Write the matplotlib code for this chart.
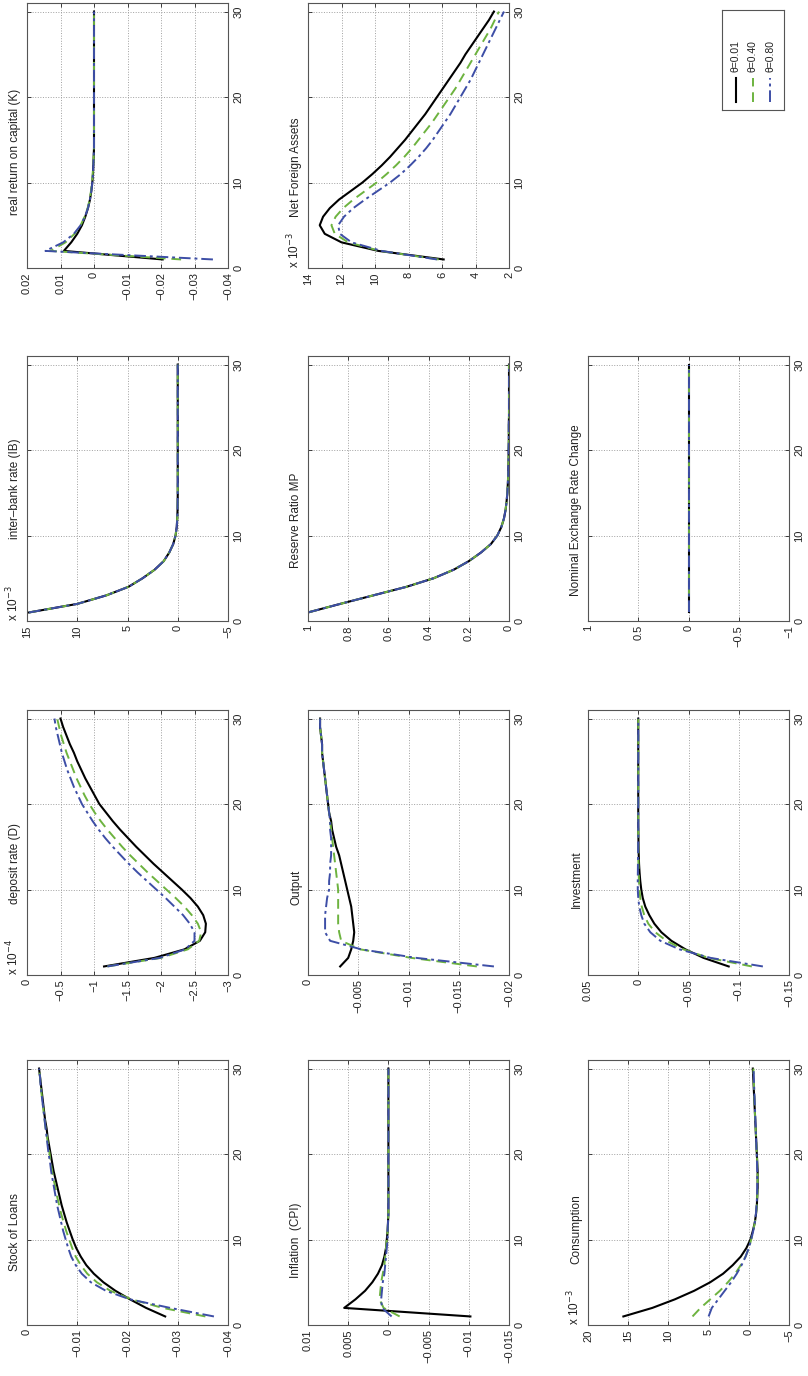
import matplotlib.pyplot as plt
from matplotlib.ticker import FixedLocator, FixedFormatter

plt.rcParams['font.family'] = ['Liberation Sans', 'DejaVu Sans']

# periods after the shock
periods = list(range(1, 31))
theta_labels = ['θ=0.01', 'θ=0.40', 'θ=0.80']

# ---- impulse responses (one list per theta) ----
real_return_k = [
    [-0.0205, 0.0090, 0.0068, 0.0050, 0.0036, 0.0026, 0.0018, 0.0012, 0.0008, 0.0005, 0.0003, 0.0002, 0.0001, 0, 0,
     0, 0, 0, 0, 0, 0, 0, 0, 0, 0, 0, 0, 0, 0, 0],
    [-0.0260, 0.0130, 0.0085, 0.0058, 0.0040, 0.0028, 0.0019, 0.0013, 0.0009, 0.0006, 0.0004, 0.0002, 0.0001, 0, 0,
     0, 0, 0, 0, 0, 0, 0, 0, 0, 0, 0, 0, 0, 0, 0],
    [-0.0355, 0.0145, 0.0092, 0.0060, 0.0040, 0.0027, 0.0018, 0.0012, 0.0008, 0.0005, 0.0003, 0.0002, 0.0001, 0, 0,
     0, 0, 0, 0, 0, 0, 0, 0, 0, 0, 0, 0, 0, 0, 0],
]
net_foreign_assets = [  # x 10^-3
    [5.9, 9.8, 12.0, 13.0, 13.3, 13.1, 12.7, 12.15, 11.45, 10.75, 10.15, 9.6, 9.1, 8.65, 8.2,
     7.8, 7.4, 7.0, 6.65, 6.3, 5.95, 5.6, 5.25, 4.9, 4.6, 4.25, 3.9, 3.55, 3.2, 2.9],
    [6.2, 9.7, 11.6, 12.4, 12.6, 12.35, 11.9, 11.3, 10.6, 9.9, 9.3, 8.75, 8.25, 7.8, 7.4,
     7.0, 6.6, 6.25, 5.9, 5.55, 5.2, 4.9, 4.6, 4.3, 4.0, 3.7, 3.4, 3.1, 2.85, 2.6],
    [6.3, 9.6, 11.4, 12.1, 12.2, 11.85, 11.3, 10.6, 9.85, 9.1, 8.45, 7.9, 7.4, 6.95, 6.55,
     6.2, 5.85, 5.5, 5.2, 4.9, 4.6, 4.3, 4.05, 3.8, 3.55, 3.3, 3.05, 2.8, 2.55, 2.3],
]
interbank_rate = [  # x 10^-3, identical for all theta
    14.8, 10.0, 7.1, 4.9, 3.5, 2.3, 1.4, 0.85, 0.45, 0.22, 0.1, 0.05, 0.02, 0.01, 0,
    0, 0, 0, 0, 0, 0, 0, 0, 0, 0, 0, 0, 0, 0, 0]
reserve_ratio = [  # identical for all theta
    1.0, 0.84, 0.675, 0.51, 0.375, 0.275, 0.2, 0.14, 0.09, 0.058, 0.038, 0.025, 0.017, 0.012, 0.008,
    0.006, 0.004, 0.003, 0.002, 0.002, 0.001, 0.001, 0.001, 0, 0, 0, 0, 0, 0, 0]
exchange_rate_change = [
    0, 0, 0, 0, 0, 0, 0, 0, 0, 0, 0, 0, 0, 0, 0,
    0, 0, 0, 0, 0, 0, 0, 0, 0, 0, 0, 0, 0, 0, 0]
deposit_rate = [  # x 10^-4
    [-1.15, -1.9, -2.35, -2.58, -2.66, -2.67, -2.63, -2.55, -2.44, -2.31, -2.17, -2.03, -1.89, -1.76, -1.63,
     -1.51, -1.39, -1.28, -1.18, -1.08, -1.01, -0.94, -0.87, -0.81, -0.75, -0.7, -0.64, -0.59, -0.54, -0.5],
    [-1.2, -2.0, -2.4, -2.57, -2.6, -2.55, -2.46, -2.35, -2.22, -2.08, -1.94, -1.8, -1.67, -1.54, -1.42,
     -1.31, -1.2, -1.1, -1.01, -0.93, -0.86, -0.8, -0.74, -0.69, -0.64, -0.59, -0.55, -0.51, -0.48, -0.45],
    [-1.2, -1.98, -2.36, -2.5, -2.5, -2.43, -2.33, -2.2, -2.07, -1.93, -1.79, -1.65, -1.52, -1.4, -1.28,
     -1.17, -1.07, -0.98, -0.9, -0.82, -0.76, -0.7, -0.65, -0.6, -0.56, -0.52, -0.49, -0.46, -0.43, -0.41],
]
output = [
    [-0.0032, -0.0040, -0.0043, -0.0045, -0.0046, -0.0045, -0.0044, -0.0043, -0.0041, -0.0039, -0.0037, -0.0035,
     -0.0033, -0.0031, -0.0028, -0.0026, -0.0024, -0.0023, -0.0021, -0.0020, -0.0019, -0.0018, -0.0017, -0.0016,
     -0.0015, -0.0014, -0.0014, -0.0013, -0.0012, -0.0012],
    [-0.0168, -0.0103, -0.0052, -0.0033, -0.0031, -0.0030, -0.0030, -0.0030, -0.0030, -0.0030, -0.0029, -0.0028,
     -0.0027, -0.0026, -0.0025, -0.0024, -0.0023, -0.0022, -0.0021, -0.0020, -0.0019, -0.0018, -0.0017, -0.0016,
     -0.0015, -0.0014, -0.0014, -0.0013, -0.0012, -0.0012],
    [-0.0185, -0.0108, -0.0053, -0.0022, -0.0017, -0.0017, -0.0017, -0.0018, -0.0019, -0.0021, -0.0021, -0.0022,
     -0.0022, -0.0023, -0.0023, -0.0023, -0.0022, -0.0022, -0.0021, -0.0020, -0.0019, -0.0018, -0.0017, -0.0016,
     -0.0015, -0.0014, -0.0014, -0.0013, -0.0012, -0.0012],
]
investment = [
    [-0.090, -0.065, -0.047, -0.033, -0.023, -0.016, -0.011, -0.007, -0.0045, -0.003, -0.002, -0.0013, -0.0008,
     -0.0005, -0.0003, -0.0002, -0.0001, 0, 0, 0, 0, 0, 0, 0, 0, 0, 0, 0, 0, 0],
    [-0.113, -0.070, -0.045, -0.028, -0.017, -0.010, -0.006, -0.0035, -0.002, -0.0012, -0.0007, -0.0004, -0.0002,
     -0.0001, 0, 0, 0, 0, 0, 0, 0, 0, 0, 0, 0, 0, 0, 0, 0, 0],
    [-0.124, -0.072, -0.041, -0.022, -0.012, -0.006, -0.003, -0.001, 0.0, 0.0005, 0.0005, 0.0004, 0.0003,
     0.0002, 0.0001, 0, 0, 0, 0, 0, 0, 0, 0, 0, 0, 0, 0, 0, 0, 0],
]
stock_of_loans = [
    [-0.0275, -0.0237, -0.0205, -0.0176, -0.0152, -0.0133, -0.0118, -0.0107, -0.0098, -0.0091, -0.0085, -0.0079,
     -0.0074, -0.0069, -0.0065, -0.0061, -0.0057, -0.0053, -0.0050, -0.0047, -0.0044, -0.0041, -0.0039, -0.0036,
     -0.0034, -0.0032, -0.0030, -0.0028, -0.0026, -0.0024],
    [-0.0355, -0.0270, -0.0208, -0.0166, -0.0139, -0.0120, -0.0107, -0.0097, -0.0090, -0.0084, -0.0078, -0.0073,
     -0.0068, -0.0064, -0.0060, -0.0057, -0.0053, -0.0050, -0.0047, -0.0045, -0.0042, -0.0040, -0.0037, -0.0035,
     -0.0033, -0.0031, -0.0029, -0.0027, -0.0026, -0.0024],
    [-0.0372, -0.0285, -0.0205, -0.0157, -0.0127, -0.0109, -0.0097, -0.0088, -0.0082, -0.0077, -0.0072, -0.0068,
     -0.0064, -0.0060, -0.0057, -0.0054, -0.0051, -0.0048, -0.0046, -0.0043, -0.0041, -0.0039, -0.0037, -0.0035,
     -0.0033, -0.0031, -0.0029, -0.0027, -0.0026, -0.0024],
]
inflation_cpi = [
    [-0.0102, 0.0055, 0.0041, 0.0029, 0.0020, 0.0013, 0.0008, 0.0005, 0.0003, 0.0002, 0.0001, 0.00005, 0, 0, 0,
     0, 0, 0, 0, 0, 0, 0, 0, 0, 0, 0, 0, 0, 0, 0],
    [-0.0014, 0.0006, 0.0011, 0.0010, 0.0009, 0.0007, 0.0005, 0.0004, 0.0003, 0.0002, 0.0001, 0.00005, 0, 0, 0,
     0, 0, 0, 0, 0, 0, 0, 0, 0, 0, 0, 0, 0, 0, 0],
    [-0.0004, 0.0008, 0.0009, 0.0008, 0.0007, 0.0005, 0.0004, 0.0003, 0.0002, 0.0001, 0.0001, 0.00005, 0, 0, 0,
     0, 0, 0, 0, 0, 0, 0, 0, 0, 0, 0, 0, 0, 0, 0],
]
consumption = [  # x 10^-3
    [15.6, 12.0, 9.2, 6.8, 4.8, 3.2, 2.0, 1.0, 0.3, -0.2, -0.5, -0.75, -0.9, -1.0, -1.05,
     -1.1, -1.1, -1.1, -1.05, -1.0, -0.95, -0.9, -0.85, -0.8, -0.75, -0.7, -0.65, -0.6, -0.55, -0.5],
    [7.0, 6.0, 4.8, 3.6, 2.6, 1.7, 1.0, 0.4, 0.0, -0.3, -0.55, -0.75, -0.9, -1.0, -1.05,
     -1.1, -1.1, -1.1, -1.05, -1.0, -0.95, -0.9, -0.85, -0.8, -0.75, -0.72, -0.68, -0.64, -0.6, -0.57],
    [5.0, 4.6, 3.8, 3.0, 2.2, 1.5, 0.9, 0.4, 0.0, -0.3, -0.55, -0.75, -0.88, -0.97, -1.02,
     -1.05, -1.05, -1.05, -1.02, -0.98, -0.94, -0.9, -0.86, -0.82, -0.78, -0.74, -0.7, -0.66, -0.62, -0.6],
]

# value-axis ticks (left to right on the page, i.e. high to low)
ticks_k = [0.02, 0.01, 0, -0.01, -0.02, -0.03, -0.04]
ticks_nfa = [14, 12, 10, 8, 6, 4, 2]
ticks_ib = [15, 10, 5, 0, -5]
ticks_rr = [1, 0.8, 0.6, 0.4, 0.2, 0]
ticks_fx = [1, 0.5, 0, -0.5, -1]
ticks_dep = [0, -0.5, -1, -1.5, -2, -2.5, -3]
ticks_out = [0, -0.005, -0.01, -0.015, -0.02]
ticks_inv = [0.05, 0, -0.05, -0.1, -0.15]
ticks_loans = [0, -0.01, -0.02, -0.03, -0.04]
ticks_cpi = [0.01, 0.005, 0, -0.005, -0.01, -0.015]
ticks_cons = [20, 15, 10, 5, 0, -5]

# (row, col, title, exponent, series, ticks, title position as axes fraction)
panels = [
    (0, 0, 'real return on capital (K)', None, real_return_k, ticks_k, 0.44),
    (0, 1, 'Net Foreign Assets', '-3', net_foreign_assets, ticks_nfa, 0.38),
    (1, 0, 'inter\u2013bank rate (IB)', '-3', [interbank_rate] * 3, ticks_ib, 0.5),
    (1, 1, 'Reserve Ratio MP', None, [reserve_ratio] * 3, ticks_rr, 0.38),
    (1, 2, 'Nominal Exchange Rate Change', None, [exchange_rate_change] * 3, ticks_fx, 0.42),
    (2, 0, 'deposit rate (D)', '-4', deposit_rate, ticks_dep, 0.42),
    (2, 1, 'Output', None, output, ticks_out, 0.33),
    (2, 2, 'Investment', None, investment, ticks_inv, 0.36),
    (3, 0, 'Stock of Loans', None, stock_of_loans, ticks_loans, 0.35),
    (3, 1, 'Inflation  (CPI)', None, inflation_cpi, ticks_cpi, 0.32),
    (3, 2, 'Consumption', '-3', consumption, ticks_cons, 0.36),
]

line_styles = [
    dict(color='black', linestyle='-', linewidth=1.5),
    dict(color='#6db33f', linestyle=(0, (5, 3)), linewidth=1.4),
    dict(color='#3d4ea6', linestyle=(0, (6, 2, 1.5, 2)), linewidth=1.4),
]

W, H = 808, 1376
col_left = [27, 308, 588]
row_bottom = [268, 621, 975, 1325]
ax_w, ax_h = 201, 265


def fmt(v):
    s = ('%g' % v)
    return s.replace('-', '\u2212')


fig = plt.figure(figsize=(W / 100, H / 100), dpi=100)
fig.patch.set_facecolor('white')

for row, col, title, expo, series, ticks, tpos in panels:
    ax = fig.add_axes([col_left[col] / W, 1 - row_bottom[row] / H, ax_w / W, ax_h / H])
    # page is turned: time runs upward, values run right-to-left
    for values, st in zip(series, line_styles):
        ax.plot(values, periods, **st)
    ax.set_xlim(ticks[0], ticks[-1])
    ax.set_ylim(0, 31)
    ax.xaxis.set_major_locator(FixedLocator(ticks))
    ax.xaxis.set_major_formatter(FixedFormatter([fmt(v) for v in ticks]))
    ax.set_yticks([0, 10, 20, 30])
    ax.set_yticklabels(['0', '10', '20', '30'])
    ax.tick_params(direction='in', length=3, width=0.6, top=True, bottom=True,
                   left=True, right=True, labelsize=8, colors='#222222')
    ax.tick_params(axis='y', labelleft=False, labelright=True, labelrotation=90, pad=4)
    ax.tick_params(axis='x', labelrotation=90, pad=3)
    for lab in ax.get_yticklabels():
        lab.set_verticalalignment('center')
    ax.grid(True, linestyle=':', linewidth=0.7, color='#a0a0a0')
    for sp in ax.spines.values():
        sp.set_color('#555555')
        sp.set_linewidth(0.8)
    ax.annotate(title, xy=(0, tpos), xycoords='axes fraction', xytext=(-4, 0),
                textcoords='offset points', rotation=90, ha='right', va='center',
                fontsize=8.5, color='#222222')
    if expo:
        ax.annotate('x 10$^{%s}$' % expo, xy=(0, 0), xycoords='axes fraction', xytext=(-4, 0),
                    textcoords='offset points', rotation=90, ha='right', va='bottom',
                    fontsize=8.5, color='#222222')

# legend box, turned like the rest of the page
lg = fig.add_axes([722 / W, 1 - 110 / H, 62 / W, 100 / H])
lg.set_xlim(0, 1)
lg.set_ylim(0, 1)
lg.set_xticks([])
lg.set_yticks([])
for sp in lg.spines.values():
    sp.set_color('#555555')
    sp.set_linewidth(0.8)
for i, (lab, st) in enumerate(zip(theta_labels, line_styles)):
    xc = 0.22 + 0.28 * i
    lg.plot([xc, xc], [0.08, 0.32], **st)
    lg.text(xc, 0.38, lab, rotation=90, ha='center', va='bottom', fontsize=7.5, color='#222222')

fig.savefig('out.png', dpi=100)
